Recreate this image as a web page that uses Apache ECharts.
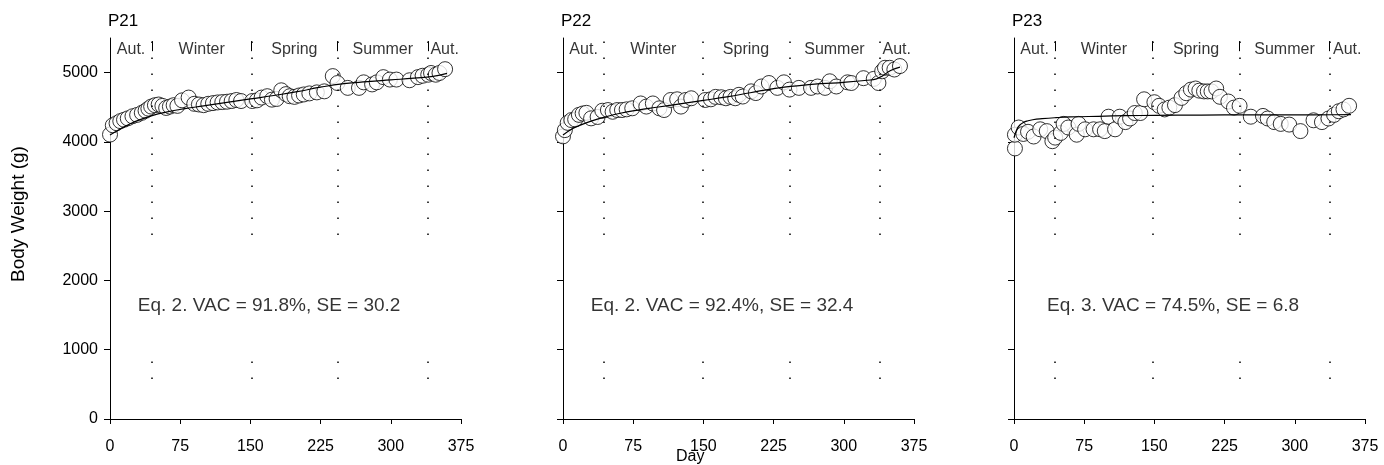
<!DOCTYPE html>
<html>
<head>
<meta charset="utf-8">
<script src="https://cdn.jsdelivr.net/npm/echarts@6/dist/echarts.min.js"></script>
<style>
html, body { margin: 0; padding: 0; background: #fff; }
#chart { width: 1384px; height: 465px; }
</style>
</head>
<body>
<div id="chart"></div>
<script>
var xTicks = [0, 75, 150, 225, 300, 375];
var yTicks = [0, 1000, 2000, 3000, 4000, 5000];
var seasons = ['Aut.', 'Winter', 'Spring', 'Summer', 'Aut.'];

// P21
var p21Day = [0, 3, 7, 11, 15, 19, 24, 29, 34, 38, 41, 44, 48, 52, 56, 60, 64, 68, 72, 77, 84, 90, 95, 100, 105, 110, 115, 120, 125, 130, 135, 140, 152, 157, 162, 168, 173, 178, 183, 188, 192, 197, 202, 207, 213, 221, 229, 238, 243, 254, 266, 271, 280, 285, 292, 299, 306, 320, 329, 334, 340, 343, 348, 352, 358];
var p21Wt = [4106, 4240, 4270, 4300, 4320, 4340, 4370, 4390, 4420, 4450, 4480, 4510, 4530, 4540, 4520, 4490, 4510, 4530, 4520, 4600, 4640, 4550, 4540, 4530, 4550, 4560, 4570, 4575, 4580, 4590, 4605, 4590, 4590, 4600, 4640, 4660, 4610, 4620, 4745, 4690, 4660, 4650, 4670, 4685, 4700, 4715, 4730, 4950, 4850, 4780, 4780, 4860, 4830, 4860, 4935, 4900, 4900, 4890, 4935, 4955, 4970, 4995, 4970, 4995, 5050];
var p21FitDay = [0, 10, 20, 30, 45, 60, 80, 100, 125, 150, 175, 200, 225, 250, 275, 300, 325, 345, 360];
var p21Fit = [4100, 4180, 4250, 4310, 4380, 4430, 4480, 4520, 4570, 4620, 4670, 4725, 4790, 4840, 4870, 4895, 4920, 4945, 4990];
var p21Bounds = [45, 151, 243, 340];

// P22
var p22Day = [0, 2, 5, 9, 13, 17, 21, 25, 30, 37, 42, 48, 53, 58, 63, 68, 74, 83, 89, 96, 103, 108, 115, 122, 126, 131, 137, 152, 158, 163, 169, 174, 179, 184, 188, 192, 201, 206, 212, 220, 229, 236, 242, 252, 265, 272, 280, 285, 292, 304, 308, 321, 332, 337, 341, 344, 349, 354, 360];
var p22Wt = [4080, 4170, 4275, 4315, 4325, 4390, 4410, 4420, 4340, 4360, 4450, 4460, 4435, 4460, 4460, 4470, 4485, 4555, 4510, 4555, 4485, 4460, 4605, 4615, 4510, 4605, 4630, 4605, 4615, 4650, 4645, 4630, 4650, 4630, 4680, 4655, 4730, 4705, 4800, 4850, 4780, 4860, 4755, 4780, 4780, 4800, 4780, 4875, 4800, 4860, 4850, 4920, 4910, 4850, 5020, 5070, 5070, 5045, 5095];
var p22FitDay = [0, 10, 20, 30, 45, 60, 80, 100, 125, 150, 175, 200, 225, 250, 275, 300, 325, 335, 342, 350, 360];
var p22Fit = [4100, 4190, 4250, 4300, 4360, 4410, 4460, 4500, 4550, 4600, 4650, 4710, 4770, 4810, 4840, 4860, 4890, 4910, 4960, 5030, 5080];
var p22Bounds = [44, 149, 242, 338];

// P23
var p23Day = [1, 1, 5, 10, 15, 21, 28, 35, 41, 44, 50, 53, 58, 67, 69, 76, 85, 92, 97, 101, 108, 113, 119, 124, 129, 135, 139, 150, 155, 161, 166, 172, 179, 184, 189, 194, 198, 203, 207, 211, 216, 220, 229, 235, 241, 253, 266, 271, 278, 285, 294, 306, 320, 329, 336, 342, 347, 352, 358];
var p23Wt = [3906, 4104, 4208, 4115, 4146, 4078, 4182, 4156, 4010, 4062, 4130, 4260, 4208, 4104, 4260, 4182, 4182, 4182, 4156, 4364, 4182, 4364, 4286, 4338, 4417, 4417, 4615, 4573, 4521, 4469, 4495, 4531, 4635, 4703, 4755, 4771, 4740, 4729, 4729, 4729, 4771, 4651, 4583, 4495, 4521, 4364, 4375, 4338, 4286, 4260, 4250, 4156, 4312, 4286, 4338, 4390, 4443, 4469, 4521];
var p23FitDay = [0, 3, 6, 10, 15, 20, 30, 45, 60, 90, 120, 150, 200, 250, 300, 340, 360];
var p23Fit = [4060, 4180, 4240, 4280, 4305, 4320, 4335, 4350, 4360, 4370, 4378, 4383, 4387, 4390, 4390, 4392, 4395];
var p23Bounds = [44, 148, 241, 337];

var panels = [
	{ name: 'P21', day: p21Day, wt: p21Wt, fitDay: p21FitDay, fit: p21Fit, bounds: p21Bounds, eq: 'Eq. 2. VAC = 91.8%, SE = 30.2', bang: true, left: 110 },
	{ name: 'P22', day: p22Day, wt: p22Wt, fitDay: p22FitDay, fit: p22Fit, bounds: p22Bounds, eq: 'Eq. 2. VAC = 92.4%, SE = 32.4', bang: false, left: 563 },
	{ name: 'P23', day: p23Day, wt: p23Wt, fitDay: p23FitDay, fit: p23Fit, bounds: p23Bounds, eq: 'Eq. 3. VAC = 74.5%, SE = 6.8', bang: true, left: 1014 }
];

var FONT = 'Liberation Sans, Arial, sans-serif';
var pairs = function(xs, ys) {
	return xs.map(function(x, i) { return [x, ys[i]]; });
};
var plain = function(v) { return String(v); };

var grids = [], xAxes = [], yAxes = [], series = [], graphics = [];
panels.forEach(function(p, k) {
	grids.push({ left: p.left, top: 38, width: 351, height: 381 });
	xAxes.push({
		gridIndex: k, type: 'value', min: 0, max: 375,
		axisLine: { lineStyle: { color: '#000', width: 1 } },
		axisTick: { length: 5, lineStyle: { color: '#000' }, customValues: xTicks },
		axisLabel: { color: '#000', fontSize: 16, fontFamily: FONT, margin: 20, customValues: xTicks, formatter: plain },
		splitLine: { show: false }
	});
	yAxes.push({
		gridIndex: k, type: 'value', min: 0, max: 5500,
		axisLine: { show: true, lineStyle: { color: '#000', width: 1 } },
		axisTick: { show: true, length: 6, lineStyle: { color: '#000' }, customValues: yTicks },
		axisLabel: { show: k === 0, color: '#000', fontSize: 16, fontFamily: FONT, margin: 12, customValues: yTicks, formatter: plain },
		splitLine: { show: false }
	});

	// season boundaries
	var mlData = [];
	p.bounds.forEach(function(b) {
		mlData.push([{ coord: [b, 5450] }, { coord: [b, 2450] }]);
		mlData.push([{ coord: [b, 830] }, { coord: [b, 540] }]);
	});
	var bangData = [];
	if (p.bang) {
		p.bounds.forEach(function(b) {
			bangData.push([{ coord: [b, 5455] }, { coord: [b, 5310] }]);
		});
	}
	series.push({
		type: 'line', xAxisIndex: k, yAxisIndex: k, data: [], silent: true,
		markLine: {
			silent: true, symbol: ['none', 'none'], label: { show: false },
			lineStyle: { color: '#000', width: 1.5, type: [1.5, 14.5] },
			data: mlData
		}
	});
	if (bangData.length) {
		series.push({
			type: 'line', xAxisIndex: k, yAxisIndex: k, data: [], silent: true,
			markLine: {
				silent: true, symbol: ['none', 'none'], label: { show: false },
				lineStyle: { color: '#000', width: 1, type: 'solid' },
				data: bangData
			}
		});
	}

	// season names centred between boundaries
	var edges = [0].concat(p.bounds, [375]);
	series.push({
		type: 'scatter', xAxisIndex: k, yAxisIndex: k, symbolSize: 0, silent: true,
		label: { show: true, position: 'inside', color: '#000', fontSize: 16, fontFamily: FONT, formatter: '{b}' },
		data: seasons.map(function(s, i) {
			return { name: s, value: [(edges[i] + edges[i + 1]) / 2, 5330] };
		})
	});

	series.push({
		type: 'scatter', xAxisIndex: k, yAxisIndex: k, z: 3,
		symbol: 'circle', symbolSize: 15,
		itemStyle: { color: '#fff', borderColor: '#000', borderWidth: 1 },
		data: pairs(p.day, p.wt)
	});
	series.push({
		type: 'line', xAxisIndex: k, yAxisIndex: k, z: 4, smooth: true,
		showSymbol: false, lineStyle: { color: '#000', width: 1.2 },
		data: pairs(p.fitDay, p.fit)
	});
	// equation text
	series.push({
		type: 'scatter', xAxisIndex: k, yAxisIndex: k, symbolSize: 0, silent: true,
		label: { show: true, position: 'inside', color: '#000', fontSize: 19, fontFamily: FONT, formatter: '{b}' },
		data: [{ name: p.eq, value: [170, 1630] }]
	});

	graphics.push({
		type: 'text', left: p.left - 2, top: 13,
		style: { text: p.name, fill: '#000', font: '17px ' + FONT }
	});
});

graphics.push({
	type: 'text', x: 19, y: 214, rotation: Math.PI / 2,
	style: { text: 'Body Weight (g)', fill: '#000', font: '19px ' + FONT, align: 'center', verticalAlign: 'middle' }
});
graphics.push({
	type: 'text', left: 676, top: 449,
	style: { text: 'Day', fill: '#000', font: '16px ' + FONT }
});

var myChart = echarts.init(document.getElementById('chart'));
myChart.setOption({
	animation: false,
	backgroundColor: '#fff',
	grid: grids,
	xAxis: xAxes,
	yAxis: yAxes,
	series: series,
	graphic: graphics
});
</script>
</body>
</html>
